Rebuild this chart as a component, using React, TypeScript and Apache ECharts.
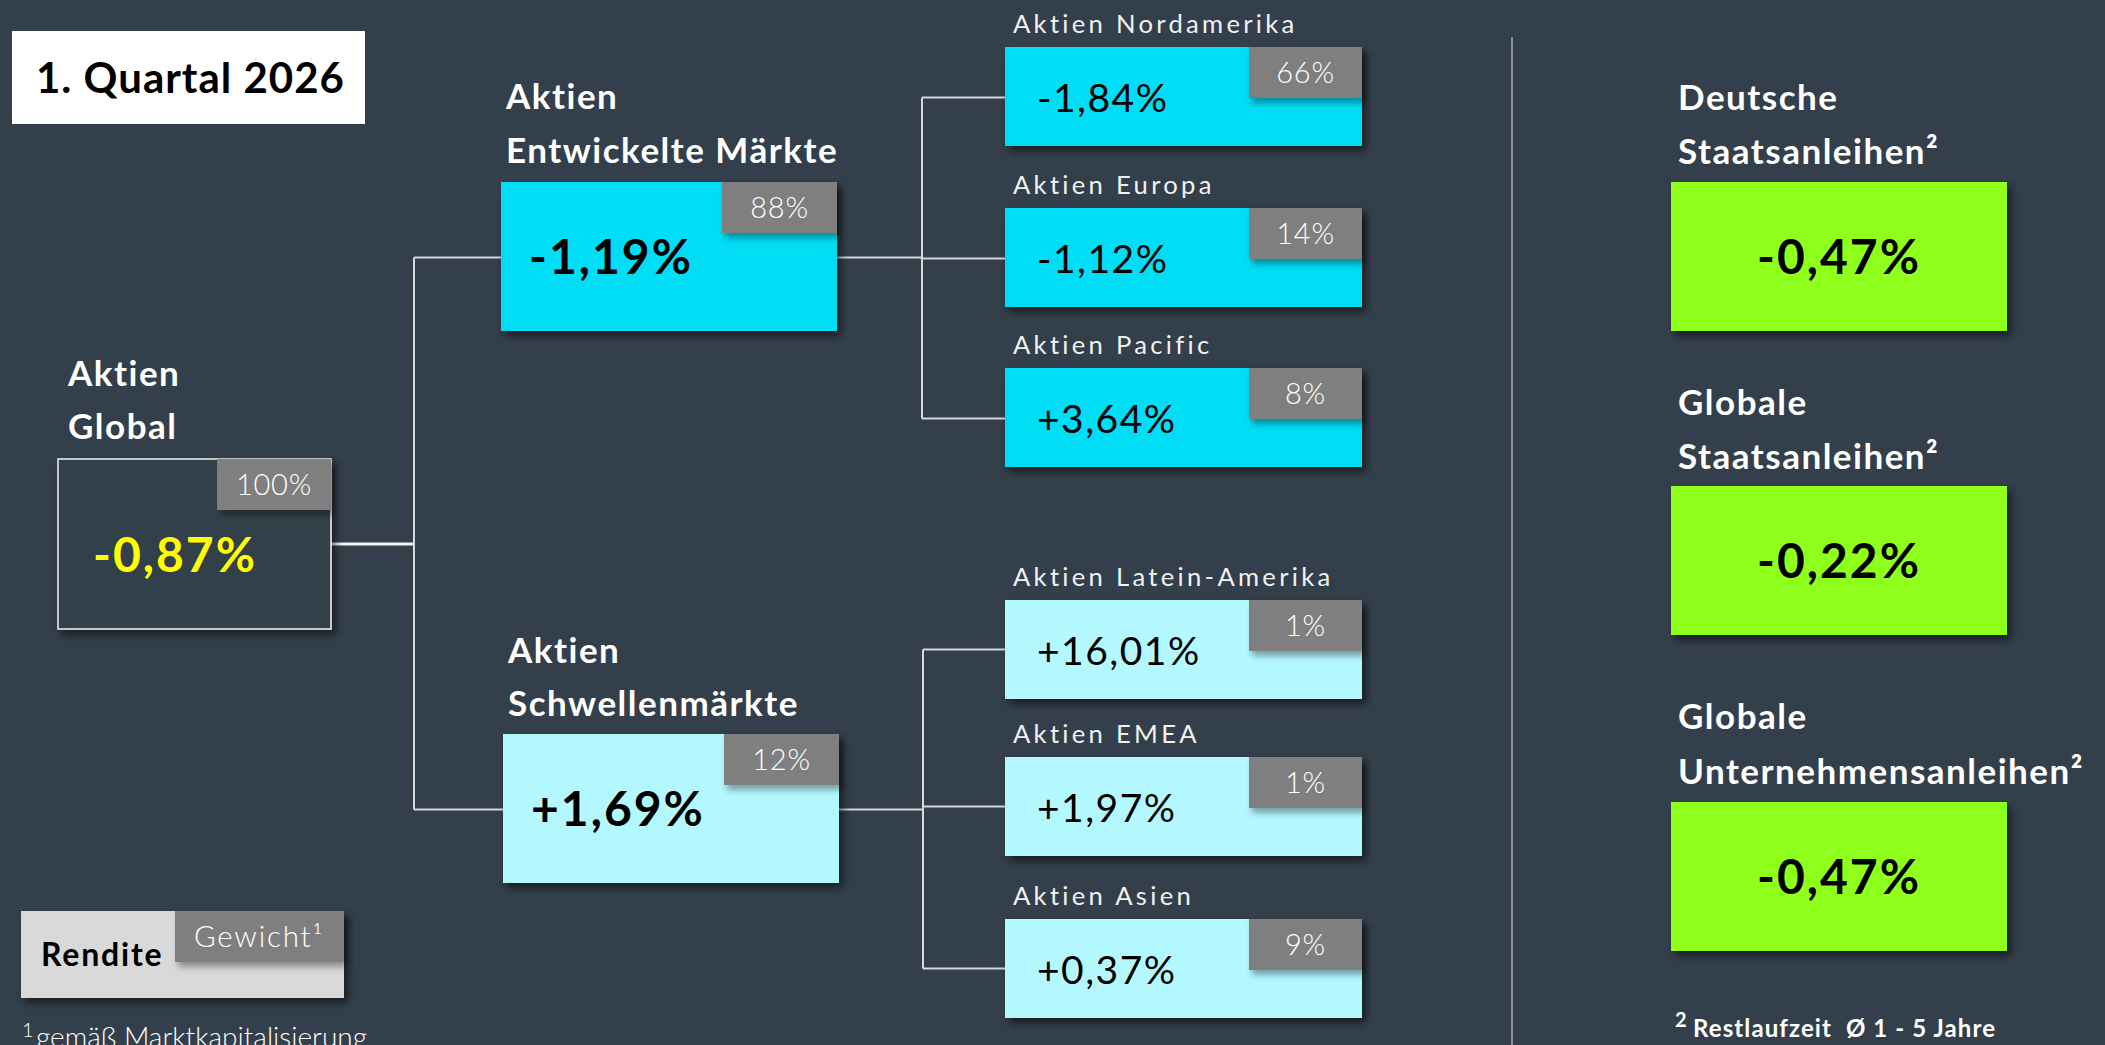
import React, { useEffect, useRef } from "react";
import * as echarts from "echarts";

const W = 2105;
const H = 1045;

// ---- data ----
const title = "1. Quartal 2026";
const globalLabel = ["Aktien", "Global"];
const globalReturn = "-0,87%";
const globalWeight = "100%";
const groupLabels = [
  ["Aktien", "Entwickelte Märkte"],
  ["Aktien", "Schwellenmärkte"],
];
const groupReturns = ["-1,19%", "+1,69%"];
const groupWeights = ["88%", "12%"];
const regionLabels = [
  "Aktien Nordamerika",
  "Aktien Europa",
  "Aktien Pacific",
  "Aktien Latein-Amerika",
  "Aktien EMEA",
  "Aktien Asien",
];
const regionReturns = ["-1,84%", "-1,12%", "+3,64%", "+16,01%", "+1,97%", "+0,37%"];
const regionWeights = ["66%", "14%", "8%", "1%", "1%", "9%"];
const bondLabels = [
  ["Deutsche", "Staatsanleihen²"],
  ["Globale", "Staatsanleihen²"],
  ["Globale", "Unternehmensanleihen²"],
];
const bondReturns = ["-0,47%", "-0,22%", "-0,47%"];
const legendLabels = ["Rendite", "Gewicht¹"];
const footnoteLeft = ["1", "gemäß Marktkapitalisierung"];
const footnoteRight = ["2", "Restlaufzeit  Ø 1 - 5 Jahre"];

// ---- styles ----
const BG = "#333f4a";
const CYAN = "#00ddf5";
const LIGHT_CYAN = "#b3f8ff";
const GREEN = "#8fff1f";
const TAG = "#7f7f7f";
const LINE = "#d8d8d8";
const FONT = "Lato, 'Open Sans', sans-serif";

// font sizes (each one also keys a letter-spacing rule below)
const FS_TITLE = 42;
const FS_HEAD = 35;
const FS_BIG = 48;
const FS_SUB = 25.6;
const FS_VAL = 39;
const FS_TAG = 29;
const FS_REND = 32;
const FS_GEW = 29.5;
const FS_FOOT = 24;

const CSS = `
.chartroot text { font-variant-ligatures: none; font-feature-settings: "liga" 0, "clig" 0; }
.chartroot text[style*="${FS_TITLE}px"] { letter-spacing: 1px; }
.chartroot text[style*="${FS_HEAD}px"] { letter-spacing: 1.5px; }
.chartroot text[style*="${FS_BIG}px"] { letter-spacing: 2px; }
.chartroot text[style*="${FS_SUB}px"] { letter-spacing: 3.3px; }
.chartroot text[style*="${FS_VAL}px"] { letter-spacing: 1.5px; }
.chartroot text[style*="${FS_TAG}px"] { letter-spacing: 0.8px; }
.chartroot text[style*="${FS_REND}px"] { letter-spacing: 1.8px; }
.chartroot text[style*="${FS_GEW}px"] { letter-spacing: 1.8px; }
.chartroot text[style*="${FS_FOOT}px"] { letter-spacing: 1.1px; }
`;

function buildElements() {
  const els: any[] = [];
  const shadow = { shadowBlur: 8, shadowOffsetX: 4, shadowOffsetY: 5, shadowColor: "rgba(0,0,0,0.55)" };
  const tagShadow = { shadowBlur: 6, shadowOffsetX: 3, shadowOffsetY: 5, shadowColor: "rgba(0,0,0,0.35)" };

  const rect = (x: number, y: number, w: number, h: number, style: any) =>
    els.push({ type: "rect", shape: { x, y, width: w, height: h }, style });
  const line = (x1: number, y1: number, x2: number, y2: number, lw = 2, stroke = LINE) =>
    els.push({ type: "line", shape: { x1, y1, x2, y2 }, style: { stroke, lineWidth: lw } });
  const text = (
    x: number,
    base: number,
    str: string,
    size: number,
    weight: any,
    fill: string,
    align = "left"
  ) =>
    els.push({
      type: "text",
      x,
      y: base - 0.385 * size,
      style: {
        text: str,
        fill,
        fontSize: size,
        fontWeight: weight,
        fontFamily: FONT,
        textAlign: align,
        textVerticalAlign: "middle",
      },
    });
  const tag = (bx: number, by: number, bw: number, tw: number, th: number, label: string) => {
    const x = bx + bw - tw;
    rect(x, by, tw, th, { fill: TAG, ...tagShadow });
    text(x + tw / 2, by + th / 2 + 0.36 * FS_TAG, label, FS_TAG, 300, "#ffffff", "center");
  };

  // title
  rect(12, 31, 353, 93, { fill: "#ffffff" });
  text(36, 93, title, FS_TITLE, "bold", "#000000");

  // boxes geometry
  const gBox = { x: 58, y: 459, w: 273, h: 170 };
  const grpBoxes = [
    { x: 501, y: 182, w: 336, h: 149 },
    { x: 503, y: 734, w: 336, h: 149 },
  ];
  const regY = [47, 208, 368, 600, 757, 919];
  const regX = 1005;
  const regW = 357;
  const regH = 99;

  // connectors
  const gcy = gBox.y + gBox.h / 2;
  const spineX = 414;
  line(gBox.x + gBox.w, gcy, spineX, gcy, 3, "#f2f2f2");
  const grpCy = grpBoxes.map((b) => b.y + b.h / 2 + 1);
  line(spineX, grpCy[0], spineX, grpCy[1]);
  grpCy.forEach((cy, i) => line(spineX, cy, grpBoxes[i].x, cy));
  const subSpine = [922, 923];
  [0, 1].forEach((g) => {
    const b = grpBoxes[g];
    const cys = regY.slice(g * 3, g * 3 + 3).map((y) => y + regH / 2 + (g === 0 ? 1 : 0));
    const sx = subSpine[g];
    line(b.x + b.w, grpCy[g], sx, grpCy[g]);
    line(sx, cys[0], sx, cys[2]);
    cys.forEach((cy) => line(sx, cy, regX, cy));
  });

  // global
  text(68, 385, globalLabel[0], FS_HEAD, "bold", "#ffffff");
  text(68, 438, globalLabel[1], FS_HEAD, "bold", "#ffffff");
  rect(gBox.x, gBox.y, gBox.w, gBox.h, { fill: BG, stroke: "#f2f2f2", lineWidth: 1.5, ...shadow });
  tag(gBox.x, gBox.y, gBox.w, 114, 51, globalWeight);
  text(93, 572, globalReturn, FS_BIG, "bold", "#ffff00");

  // groups
  const grpLabelBase = [
    [108, 162],
    [662, 715],
  ];
  grpBoxes.forEach((b, i) => {
    text(b.x + 5, grpLabelBase[i][0], groupLabels[i][0], FS_HEAD, "bold", "#ffffff");
    text(b.x + 5, grpLabelBase[i][1], groupLabels[i][1], FS_HEAD, "bold", "#ffffff");
    rect(b.x, b.y, b.w, b.h, { fill: i === 0 ? CYAN : LIGHT_CYAN, ...shadow });
    tag(b.x, b.y, b.w, 115, 51, groupWeights[i]);
    text(b.x + 28, b.y + 92, groupReturns[i], FS_BIG, "bold", "#000000");
  });

  // regions
  regY.forEach((y, i) => {
    text(regX + 8, y - 14, regionLabels[i], FS_SUB, "normal", "#f2f2f2");
    rect(regX, y, regW, regH, { fill: i < 3 ? CYAN : LIGHT_CYAN, ...shadow });
    tag(regX, y, regW, 113, 51, regionWeights[i]);
    text(regX + 32, y + 65, regionReturns[i], FS_VAL, "normal", "#000000");
  });

  // divider
  line(1512, 37, 1512, H, 2, "#8a9096");

  // bonds
  const bondY = [182, 486, 802];
  const bondLabelBase = [
    [109, 163],
    [414, 468],
    [728, 783],
  ];
  bondY.forEach((y, i) => {
    text(1678, bondLabelBase[i][0], bondLabels[i][0], FS_HEAD, "bold", "#ffffff");
    text(1678, bondLabelBase[i][1], bondLabels[i][1], FS_HEAD, "bold", "#ffffff");
    rect(1671, y, 336, 149, { fill: GREEN, ...shadow });
    text(1671 + 168, y + 92, bondReturns[i], FS_BIG, "bold", "#000000", "center");
  });

  // legend
  rect(21, 911, 323, 87, { fill: "#d9d9d9", ...shadow });
  rect(175, 911, 169, 51, { fill: TAG, ...tagShadow });
  text(41, 966, legendLabels[0], FS_REND, "bold", "#000000");
  text(259, 947, legendLabels[1], FS_GEW, 300, "#ffffff", "center");

  // footnotes
  text(22, 1037, footnoteLeft[0], 20, 300, "#ffffff");
  text(36, 1047, footnoteLeft[1], 28, 300, "#ffffff");
  text(1675, 1027, footnoteRight[0], 20, "bold", "#ffffff");
  text(1693, 1037, footnoteRight[1], FS_FOOT, "bold", "#ffffff");

  return els;
}

export default function App() {
  const ref = useRef<HTMLDivElement>(null);
  useEffect(() => {
    document.body.style.margin = "0";
    const chart = echarts.init(ref.current!, null, { renderer: "svg" });
    chart.setOption({
      animation: false,
      backgroundColor: BG,
      graphic: { elements: buildElements() },
    });
    return () => chart.dispose();
  }, []);
  return (
    <>
      <style>{CSS}</style>
      <div
        ref={ref}
        className="chartroot"
        style={{ position: "fixed", left: 0, top: 0, width: W, height: H }}
      />
    </>
  );
}
